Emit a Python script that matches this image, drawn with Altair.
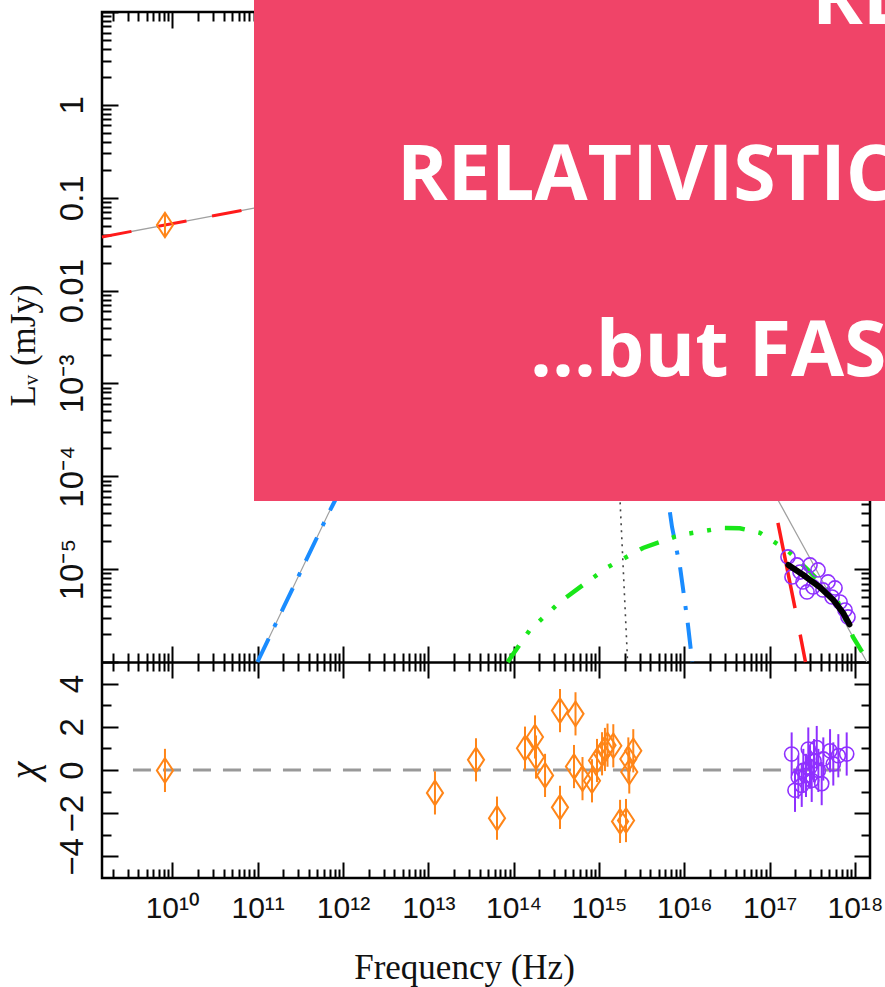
import json
import altair as alt
import pandas as pd

# ---------------- axis structure ----------------
X_DOMAIN = [1.5e9, 1.5e18]
Y_TOP_DOMAIN = [1e-6, 10.0]
Y_BOT_DOMAIN = [-5.0, 5.0]

X_MAJOR = [1e10, 1e11, 1e12, 1e13, 1e14, 1e15, 1e16, 1e17, 1e18]
X_DECADES = [1e9, 1e10, 1e11, 1e12, 1e13, 1e14, 1e15, 1e16, 1e17]
X_TICK_LABELS = ["10¹⁰", "10¹¹", "10¹²", "10¹³", "10¹⁴", "10¹⁵", "10¹⁶", "10¹⁷", "10¹⁸"]
Y_TOP_MAJOR = [1e-6, 1e-5, 1e-4, 1e-3, 1e-2, 1e-1, 1.0, 10.0]
Y_TOP_DECADES = [1e-6, 1e-5, 1e-4, 1e-3, 1e-2, 1e-1, 1.0]
Y_TOP_LABEL_VALUES = [1.0, 0.1, 0.01, 1e-3, 1e-4, 1e-5]
Y_TOP_TICK_LABELS = ["1", "0.1", "0.01", "10⁻³", "10⁻⁴", "10⁻⁵"]
Y_BOT_MAJOR = [-4, -2, 0, 2, 4]
Y_BOT_MINOR = [-3, -1, 1, 3]
Y_BOT_TICK_LABELS = ["−4", "−2", "0", "2", "4"]
MINOR_STEPS = [2, 3, 4, 5, 6, 7, 8, 9]

X_MINOR = [m * d for d in X_DECADES for m in MINOR_STEPS if m * d <= X_DOMAIN[1]]
Y_TOP_MINOR = [m * d for d in Y_TOP_DECADES for m in MINOR_STEPS]

# ---------------- data (log10 values) ----------------
TOTAL_LOGNU = [9.176, 9.914, 10.957, 11.5, 13.0, 14.5, 16.0, 16.8, 17.098, 17.297, 17.497, 17.707, 17.918, 18.094, 18.14]
TOTAL_LOGI = [-1.423, -1.294, -1.111, -1.02, -0.75, -1.1, -2.5, -3.6, -4.255, -4.589, -4.923, -5.278, -5.634, -5.925, -6.0]

SYNC_LEFT_LOGNU = [9.176, 9.914, 10.957, 11.8]
SYNC_LEFT_LOGI = [-1.423, -1.294, -1.111, -0.97]
SYNC_RIGHT_LOGNU = [16.9, 17.046, 17.297, 17.42]
SYNC_RIGHT_LOGI = [-3.5, -4.266, -5.418, -6.0]

BB_LOGNU = [10.998, 11.825, 11.904, 12.3, 13.3, 14.5, 15.3, 15.7, 15.812, 15.856, 15.95, 16.008, 16.043, 16.09, 16.093]
BB_LOGI = [-6.0, -4.41, -4.266, -3.6, -2.6, -2.2, -2.8, -3.6, -4.266, -4.546, -4.977, -5.365, -5.601, -5.978, -6.0]
BB_GRAY_LOGNU = [10.998, 11.825, 11.904, 12.3]
BB_GRAY_LOGI = [-6.0, -4.41, -4.266, -3.6]

DISK_LOGNU = [13.93, 14.19, 14.543, 14.813, 15.106, 15.516, 15.95, 16.444, 16.65, 16.887, 17.204, 17.473, 17.79, 17.977, 18.106, 18.14]
DISK_LOGI = [-6.0, -5.655, -5.354, -5.17, -4.977, -4.772, -4.632, -4.557, -4.56, -4.61, -4.794, -5.03, -5.332, -5.73, -5.925, -6.0]

CUT_LOGNU = [15.2, 15.247, 15.329, 15.335]
CUT_LOGI = [-3.0, -4.266, -5.87, -6.0]

XMODEL_LOGNU = [17.219, 17.395, 17.59, 17.746, 17.863, 17.935]
XMODEL_LOGI = [-4.955, -5.063, -5.195, -5.331, -5.475, -5.595]

RADIO_LOGNU = [9.914]
RADIO_LOGI = [-1.294]
RADIO_LOGERR = [0.13]

XRAY_LOGNU = [17.215, 17.262, 17.321, 17.356, 17.391, 17.438, 17.473, 17.508, 17.567, 17.625, 17.684, 17.731, 17.766, 17.825, 17.883, 17.918]
XRAY_LOGI = [-4.869, -5.084, -4.955, -5.031, -5.138, -5.246, -4.955, -5.192, -5.009, -5.224, -5.138, -5.300, -5.203, -5.354, -5.440, -5.515]

RES_OPT_LOGNU = [9.914, 13.078, 13.559, 13.805, 14.133, 14.250, 14.262, 14.368, 14.543, 14.725, 14.543, 14.707, 14.807,
                 14.918, 14.977, 15.036, 15.07, 15.100, 15.168, 15.247, 15.317, 15.344, 15.402, 15.355]
RES_OPT_CHI = [-0.02, -1.06, 0.47, -2.23, 1.01, 1.53, 0.6, -0.25, 2.75, 2.6, -1.73, 0.16, -0.4,
               -0.5, 0.44, 0.75, 0.95, 1.15, 1.12, -2.38, -2.34, 0.51, 0.89, -0.09]
RES_X_LOGNU = [17.258, 17.297, 17.336, 17.376, 17.395, 17.426, 17.453, 17.473, 17.493, 17.52, 17.552, 17.571,
               17.610, 17.629, 17.708, 17.746, 17.805, 17.903]
RES_X_CHI = [0.74, -0.94, -0.33, -0.71, -0.02, -0.25, 0.97, 0.13, -0.48, 0.43, 1.04, -0.02,
             -0.63, 0.51, 0.89, 0.28, 0.66, 0.74]
RES_ERR = 1.0

ZERO_LOGNU = [9.539, 17.977]
ZERO_CHI = [0.0, 0.0]

OVERLAY_LINES = ["RE", "RELATIVISTIC", "...but FAS"]

# ---------------- colours ----------------
ORANGE = "#ff8518"
PURPLE = "#8f30ff"
RED = "#ff1a1a"
BLUE = "#1a8cff"
GREEN = "#19e619"
GRAY = "#a0a0a0"
BOX = "#f04468"
DIAMOND = "M0,-1L0.66,0L0,1L-0.66,0Z"


def curve(lognu, logi):
    return pd.DataFrame({"nu": [10 ** v for v in lognu], "I": [10 ** v for v in logi]})


def xenc(axis=None):
    return alt.X("nu:Q", scale=alt.Scale(type="log", domain=X_DOMAIN, nice=False), axis=axis)


def ytop(field="I", axis=None):
    return alt.Y(f"{field}:Q", scale=alt.Scale(type="log", domain=Y_TOP_DOMAIN, range=[650, 0], nice=False), axis=axis)


def ybot(field="chi", axis=None):
    return alt.Y(f"{field}:Q", scale=alt.Scale(type="linear", domain=Y_BOT_DOMAIN, range=[866, 650], nice=False, zero=False), axis=axis)


def line(df, color, width, dash=None, dash_offset=None, cap="butt"):
    kw = dict(color=color, strokeWidth=width, opacity=1, strokeCap=cap)
    if dash is not None:
        kw["strokeDash"] = dash
    if dash_offset is not None:
        kw["strokeDashOffset"] = dash_offset
    return alt.Chart(df).mark_line(**kw).encode(x=xenc(), y=ytop())


def tick_axis(orient, offset, values, size, domain=False):
    kw = dict(orient=orient, offset=offset, values=values, tickSize=size, tickWidth=2, tickColor="black",
              ticks=True, labels=False, grid=False, domain=domain, title=None, zindex=0)
    if domain:
        kw.update(domainColor="black", domainWidth=2.5)
    return alt.Axis(**kw)


MAJ, MIN = 16, 9
x_axes = [
    tick_axis("bottom", -866, X_MAJOR, MAJ), tick_axis("bottom", -866, X_MINOR, MIN),
    tick_axis("top", -650, X_MAJOR, MAJ, domain=True), tick_axis("top", -650, X_MINOR, MIN),
    tick_axis("bottom", -216, X_MAJOR, MAJ), tick_axis("bottom", -216, X_MINOR, MIN),
    tick_axis("top", -866, X_MAJOR, MAJ), tick_axis("top", -866, X_MINOR, MIN),
    alt.Axis(orient="bottom", offset=0, values=X_MAJOR, ticks=False, tickSize=0, domain=False, grid=False,
             labelExpr=json.dumps(X_TICK_LABELS, ensure_ascii=False) + "[round(log(datum.value)/LN10) - 10]",
             labelFont="Liberation Sans", labelFontSize=30, labelColor="#111", labelPadding=39,
             labelBaseline="alphabetic", labelAlign="center", labelFlush=False, labelOverlap=False,
             title="Frequency (Hz)", titleFont="Liberation Serif", titleFontSize=35, titleFontWeight="normal",
             titleColor="#111", titleX=362, titleY=100, titleAlign="center", titleBaseline="alphabetic",
             titleAngle=0, zindex=0),
]

y_label_common = dict(ticks=False, tickSize=0, domain=False, grid=False, labelAngle=270, labelAlign="center",
                      labelBaseline="alphabetic", labelPadding=20, labelFont="Liberation Sans", labelFontSize=33,
                      labelColor="#111", labelFlush=False, labelOverlap=False, titleFont="Liberation Serif",
                      titleFontWeight="normal", titleColor="#111", titleAngle=270, titleAlign="center",
                      titleBaseline="alphabetic", zindex=0)

y_axes = [
    ("top", tick_axis("right", -768, Y_TOP_MAJOR, MAJ)), ("top", tick_axis("right", -768, Y_TOP_MINOR, MIN)),
    ("top", tick_axis("left", -768, Y_TOP_MAJOR, MAJ)), ("top", tick_axis("left", -768, Y_TOP_MINOR, MIN)),
    ("top", alt.Axis(orient="left", offset=0, values=Y_TOP_LABEL_VALUES,
                     labelExpr=json.dumps(Y_TOP_TICK_LABELS, ensure_ascii=False) + "[-round(log(datum.value)/LN10)]",
                     title="Lᵥ (mJy)", titleFontSize=35, titleX=-68, titleY=333, **y_label_common)),
    ("bot", tick_axis("right", -768, Y_BOT_MAJOR, MAJ)), ("bot", tick_axis("right", -768, Y_BOT_MINOR, MIN)),
    ("bot", tick_axis("left", -768, Y_BOT_MAJOR, MAJ)), ("bot", tick_axis("left", -768, Y_BOT_MINOR, MIN)),
    ("bot", alt.Axis(orient="left", offset=0, values=Y_BOT_MAJOR,
                     labelExpr=json.dumps(Y_BOT_TICK_LABELS, ensure_ascii=False) + "[round((datum.value + 4) / 2)]",
                     title="χ", titleFontSize=40, titleFontStyle="italic", titleX=-66, titleY=758,
                     **y_label_common)),
]

carrier_df = pd.DataFrame({"nu": [1e12], "I": [1.0], "chi": [0.0]})
carriers = []
for i, (kind, ya) in enumerate(y_axes):
    xa = x_axes[i] if i < len(x_axes) else None
    y = ytop("I", ya) if kind == "top" else ybot("chi", ya)
    carriers.append(alt.Chart(carrier_df).mark_point(opacity=0, size=1).encode(x=xenc(xa), y=y))

# ---------------- top panel ----------------
layers = []
layers.append(line(curve(BB_GRAY_LOGNU, BB_GRAY_LOGI), GRAY, 1.2))
layers.append(line(curve(TOTAL_LOGNU, TOTAL_LOGI), GRAY, 1.3))
layers.append(line(curve(SYNC_LEFT_LOGNU, SYNC_LEFT_LOGI), RED, 3, dash=[30, 26]))
layers.append(line(curve(SYNC_RIGHT_LOGNU, SYNC_RIGHT_LOGI), RED, 3.5, dash=[87, 27], dash_offset=19.5))
layers.append(line(curve(CUT_LOGNU, CUT_LOGI), "#444444", 1.6, dash=[2, 5]))
layers.append(line(curve(BB_LOGNU, BB_LOGI), BLUE, 4, dash=[26, 13, 4, 13]))
layers.append(line(curve(DISK_LOGNU, DISK_LOGI), GREEN, 4.5, dash=[20, 14, 4, 14, 4, 14, 4, 14]))

radio = pd.DataFrame({
    "nu": [10 ** v for v in RADIO_LOGNU],
    "I": [10 ** v for v in RADIO_LOGI],
    "lo": [10 ** (v - e) for v, e in zip(RADIO_LOGI, RADIO_LOGERR)],
    "hi": [10 ** (v + e) for v, e in zip(RADIO_LOGI, RADIO_LOGERR)],
})
layers.append(alt.Chart(radio).mark_rule(color=ORANGE, strokeWidth=2).encode(
    x=xenc(), y=ytop("lo"), y2=alt.Y2("hi:Q")))
layers.append(alt.Chart(radio).mark_point(shape=DIAMOND, size=600, filled=False, color=ORANGE,
                                          strokeWidth=2, opacity=1).encode(x=xenc(), y=ytop()))

layers.append(alt.Chart(curve(XRAY_LOGNU, XRAY_LOGI)).mark_point(
    shape="circle", size=200, filled=False, color=PURPLE, strokeWidth=1.6, opacity=1).encode(x=xenc(), y=ytop()))
layers.append(line(curve(XMODEL_LOGNU, XMODEL_LOGI), "black", 6, cap="round"))

# ---------------- residual panel ----------------
zero_df = pd.DataFrame({"nu": [10 ** v for v in ZERO_LOGNU], "chi": ZERO_CHI})
layers.append(alt.Chart(zero_df).mark_line(color="#999999", strokeWidth=3, strokeDash=[18, 12]).encode(
    x=xenc(), y=ybot()))


def residuals(lognu, chi, color, shape, size, sw):
    df = pd.DataFrame({"nu": [10 ** v for v in lognu], "chi": chi,
                       "lo": [c - RES_ERR for c in chi], "hi": [c + RES_ERR for c in chi]})
    bars = alt.Chart(df).mark_rule(color=color, strokeWidth=2).encode(x=xenc(), y=ybot("lo"), y2=alt.Y2("hi:Q"))
    pts = alt.Chart(df).mark_point(shape=shape, size=size, filled=False, color=color, strokeWidth=sw,
                                   opacity=1).encode(x=xenc(), y=ybot())
    return [bars, pts]


layers += residuals(RES_OPT_LOGNU, RES_OPT_CHI, ORANGE, DIAMOND, 600, 2)
layers += residuals(RES_X_LOGNU, RES_X_CHI, PURPLE, "circle", 200, 1.6)

# ---------------- overlay box & text ----------------
one = pd.DataFrame({"a": [0]})
box = alt.Chart(one).mark_rect(color=BOX, opacity=1).encode(
    x=alt.value(152), x2=alt.value(820), y=alt.value(-12), y2=alt.value(489))
texts = []
for txt, xv, yv in zip(OVERLAY_LINES, [710, 295, 428], [12, 188, 364]):
    texts.append(alt.Chart(one).mark_text(text=txt, font="Open Sans", fontWeight="bold", fontSize=77,
                                          color="white", align="left", baseline="alphabetic").encode(
        x=alt.value(xv), y=alt.value(yv)))

chart = alt.layer(*carriers, *layers, box, *texts).resolve_scale(y="independent").resolve_axis(
    x="independent", y="independent").properties(
    width=768, height=866,
    padding={"left": 102, "top": 12, "right": 15, "bottom": 109},
    autosize=alt.AutoSizeParams(type="none"),
    background="white",
).configure_view(stroke="black", strokeWidth=2.5)

chart.save("out.html", embed_options={"renderer": "svg", "actions": False})
